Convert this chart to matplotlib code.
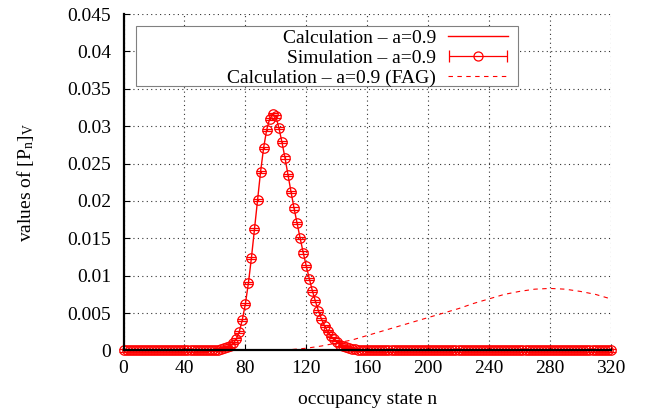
import numpy as np
import matplotlib
matplotlib.use('Agg')
import matplotlib.pyplot as plt
from matplotlib.patches import Rectangle
from matplotlib.legend_handler import HandlerErrorbar

plt.rcParams['font.family'] = 'Liberation Serif'
plt.rcParams['mathtext.fontset'] = 'custom'
plt.rcParams['mathtext.rm'] = 'Liberation Serif'
plt.rcParams['mathtext.it'] = 'Liberation Serif:italic'

#datos: estados n (paso 2) y valores
n_sim = list(range(0, 322, 2))
p_peak = [0.00001, 0.00002, 0.00003, 0.00005, 0.00008,
          0.00012, 0.00019, 0.00029, 0.00044, 0.00066,
          0.00098, 0.0015, 0.0025, 0.0041, 0.0062,
          0.0090, 0.0124, 0.0162, 0.0201, 0.0239,
          0.0271, 0.0295, 0.0310, 0.0316, 0.0313,
          0.0298, 0.0279, 0.0258, 0.0235, 0.0212,
          0.0190, 0.0170, 0.0150, 0.0131, 0.0113,
          0.0096, 0.0080, 0.0066, 0.0053, 0.0042,
          0.0033, 0.0026, 0.0020, 0.0015, 0.0011,
          0.0008, 0.0006, 0.00042, 0.0003, 0.00021,
          0.00014, 0.00009, 0.00006, 0.00004, 0.00002]
p_calc = [0.0] * 26 + p_peak + [0.0] * 80   # n=0..50, 52..160, 162..320
p_sim = p_calc
err_sim = 0.00015

n_fag = list(range(0, 330, 10))
p_fag = [0.0] * 10 + [0.00003, 0.00012, 0.0003, 0.0006, 0.0010,
                      0.0014, 0.0020, 0.0026, 0.0032, 0.0038,
                      0.0044, 0.0050, 0.0056, 0.0063, 0.0069,
                      0.0075, 0.0079, 0.0082, 0.0083, 0.0082,
                      0.0079, 0.0075, 0.0069]

xticks = [0, 40, 80, 120, 160, 200, 240, 280, 320]
yticks = [0, 0.005, 0.01, 0.015, 0.02, 0.025, 0.03, 0.035, 0.04, 0.045]
ytick_labels = ['0', '0.005', '0.01', '0.015', '0.02', '0.025', '0.03', '0.035', '0.04', '0.045']

labels = ['Calculation – a=0.9', 'Simulation – a=0.9', 'Calculation – a=0.9 (FAG)']

fig = plt.figure(figsize=(6.45, 4.12), dpi=100)
ax = fig.add_axes([0.1915, 0.1493, 0.7555, 0.8167])

h_calc, = ax.plot(n_sim, p_calc, color='red', lw=1.0)
eb = ax.errorbar(n_sim, p_sim, yerr=err_sim, fmt='o', mfc='none', mec='red', ms=6.8,
                 mew=0.9, color='red', ecolor='red', elinewidth=0.9, capsize=3.8, capthick=0.9)
for art in eb.lines[0:1] + tuple(eb.lines[1]) + tuple(eb.lines[2]):
    art.set_clip_on(False)
h_fag, = ax.plot(n_fag, p_fag, color='red', lw=0.8, linestyle=(0, (4, 4)))

# clave del legend con barra horizontal (estilo gnuplot)
h_key = ax.errorbar([np.nan], [np.nan], xerr=[1.0], fmt='o', mfc='none', mec='red', ms=6.5,
                    mew=0.9, color='red', ecolor='red', elinewidth=0.9, capsize=4, capthick=0.9)

ax.set_xlim(0, 320)
ax.set_ylim(0, 0.045)
ax.set_xticks(xticks)
ax.set_xticklabels([str(v) for v in xticks])
ax.set_yticks(yticks)
ax.set_yticklabels(ytick_labels)
ax.tick_params(direction='in', length=4.5, width=0.8, labelsize=14, colors='black')
ax.tick_params(axis='x', pad=7)
ax.tick_params(axis='y', pad=9)

ax.grid(True, color='#333333', lw=0.8, linestyle=(0, (1, 3)))
ax.spines['top'].set_visible(False)
ax.spines['right'].set_visible(False)
ax.spines['left'].set_linewidth(1.6)
ax.spines['bottom'].set_linewidth(1.6)

ax.set_xlabel('occupancy state n', fontsize=14, labelpad=10)
ax.set_ylabel(r'values of [P$_{\rm n}$]$_{\rm V}$', fontsize=14)
ax.yaxis.set_label_coords(-0.18, 0.5)

# markerfirst=False -> filas alineadas a la derecha como en gnuplot
leg = ax.legend([h_calc, h_key, h_fag], labels, loc='upper right',
                bbox_to_anchor=(0.789, 0.955), borderaxespad=0, borderpad=0,
                frameon=False, markerfirst=False, fontsize=14, handlelength=3.1,
                handletextpad=0.6, labelspacing=0.13,
                handler_map={type(h_key): HandlerErrorbar(xerr_size=1.5)})
leg.set_zorder(6)

# marco de la clave (caja blanca, borde gris)
ax.add_patch(Rectangle((0.0266, 0.786), 0.7824, 0.1783, transform=ax.transAxes,
                       facecolor='white', edgecolor='#808080', lw=0.8, zorder=4, clip_on=False))

plt.savefig('out.png', dpi=100)
